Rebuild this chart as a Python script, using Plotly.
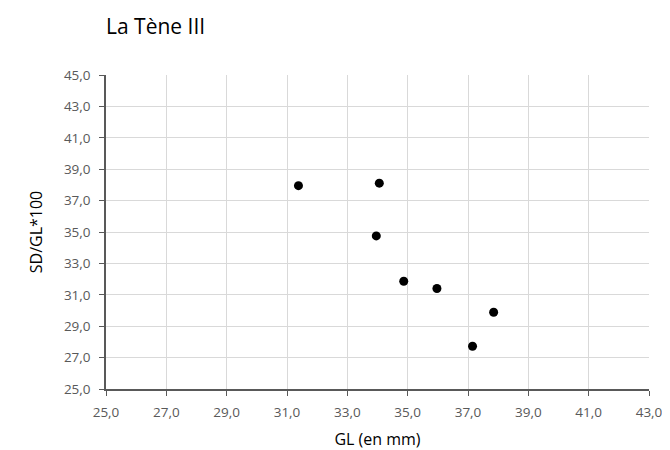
import plotly.graph_objects as go

gl_mm = [31.38, 34.06, 33.96, 34.87, 35.97, 37.85, 37.15]
sd_gl_100 = [37.95, 38.11, 34.75, 31.86, 31.40, 29.89, 27.72]

x_ticks = [25, 27, 29, 31, 33, 35, 37, 39, 41, 43]
y_ticks = [25, 27, 29, 31, 33, 35, 37, 39, 41, 43, 45]
x_labels = [f"{v:.1f}".replace(".", ",") for v in x_ticks]
y_labels = [f"{v:.1f}".replace(".", ",") for v in y_ticks]

font_family = "Open Sans, Noto Sans, sans-serif"

fig = go.Figure()
fig.add_trace(go.Scatter(
    x=gl_mm, y=sd_gl_100, mode="markers",
    marker=dict(color="black", size=9),
    showlegend=False, hoverinfo="x+y",
))

fig.update_layout(
    width=670, height=450,
    margin=dict(l=98, r=29, t=67, b=65),
    paper_bgcolor="white", plot_bgcolor="white",
    font=dict(family=font_family, color="#595959", size=13),
    title=dict(text="La Tène III", x=0, xref="paper", xanchor="left",
               y=1 - 19 / 450, yref="container", yanchor="middle",
               font=dict(size=21, color="black", family=font_family)),
)

fig.update_xaxes(
    range=[25, 43], tickvals=x_ticks, ticktext=x_labels,
    showgrid=True, gridcolor="#d9d9d9", gridwidth=1,
    showline=True, linecolor="#595959", linewidth=1.5,
    ticks="outside", ticklen=5, tickcolor="#595959",
    ticklabelstandoff=5,
    zeroline=False,
    title=dict(text="GL (en mm)", standoff=14, font=dict(size=16, color="black")),
    tickfont=dict(size=13.5, color="#595959"),
)
fig.update_yaxes(
    range=[25, 45], tickvals=y_ticks, ticktext=y_labels,
    showgrid=True, gridcolor="#d9d9d9", gridwidth=1,
    showline=True, linecolor="#595959", linewidth=1.5,
    ticks="outside", ticklen=5, tickcolor="#595959",
    ticklabelstandoff=6,
    zeroline=False,
    title=dict(text="SD/GL*100", standoff=17, font=dict(size=16, color="black")),
    tickfont=dict(size=13.5, color="#595959"),
)

fig.write_html("out.html")
